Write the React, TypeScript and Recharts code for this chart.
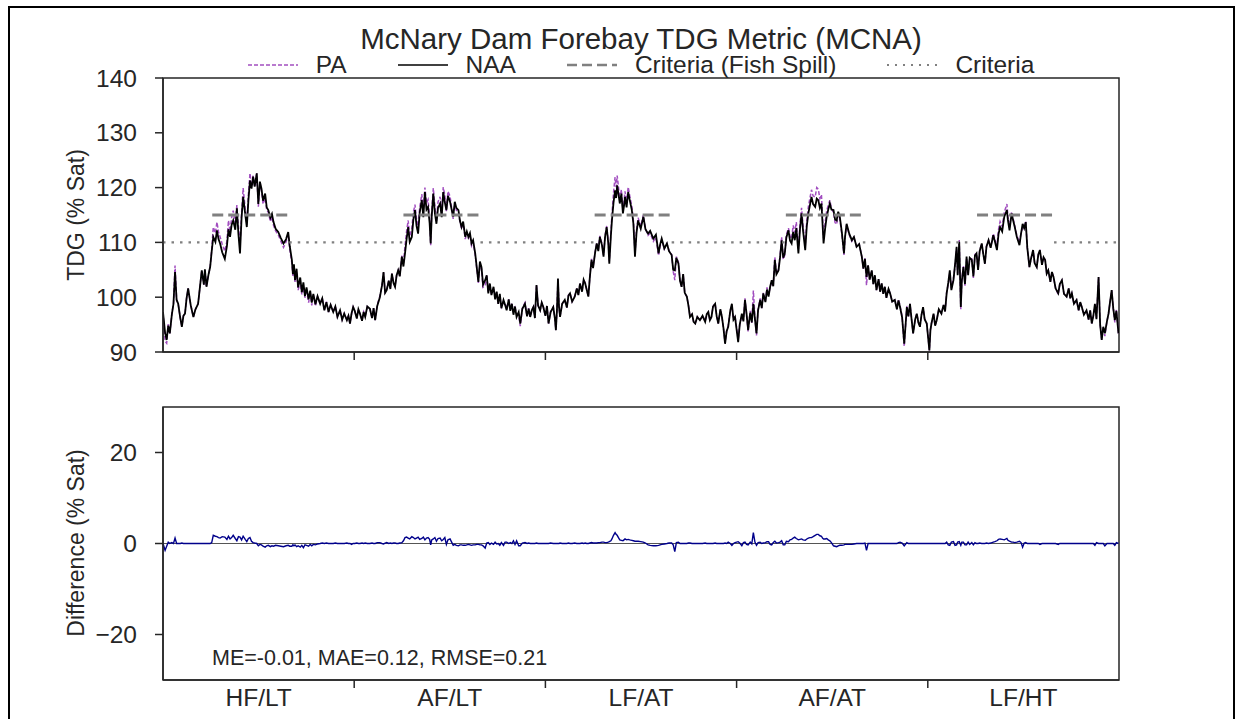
import React from "react";
import { LineChart, Line, XAxis, YAxis, ReferenceLine, ReferenceArea } from "recharts";

// Day of the 5-year period (365 days per year) for each sample
const days = [
  // year 1
  0, 4, 7, 10, 13, 17, 20, 23, 26, 29,
  33, 36, 39, 42, 45, 48, 53, 58, 62, 67,
  70, 74, 78, 80, 83, 87, 90, 93, 96, 100,
  103, 106, 109, 113, 118, 122, 125, 128, 131, 134,
  138, 141, 144, 147, 150, 153, 157, 160, 163, 166,
  169, 172, 175, 179, 182, 185, 188, 191, 195, 198,
  201, 205, 208, 211, 215, 220, 225, 230, 235, 239,
  242, 246, 248, 250, 252, 255, 258, 262, 265, 268,
  271, 274, 278, 281, 284, 287, 291, 295, 300, 304,
  308, 312, 316, 320, 325, 329, 333, 338, 342, 346,
  351, 354, 357, 360, 363,
  // year 2
  366, 370, 373, 376, 380, 383, 386, 390, 395, 399,
  402, 405, 409, 414, 418, 421, 424, 427, 431, 434,
  437, 440, 443, 446, 449, 452, 456, 459, 462, 465,
  468, 471, 475, 478, 481, 484, 487, 490, 494, 497,
  500, 503, 506, 509, 511, 513, 516, 519, 522, 525,
  529, 532, 535, 538, 541, 544, 548, 551, 554, 557,
  560, 564, 567, 570, 573, 577, 580, 583, 586, 589,
  592, 596, 599, 602, 605, 608, 611, 615, 618, 621,
  624, 627, 631, 634, 637, 640, 643, 646, 650, 653,
  656, 660, 663, 666, 669, 672, 675, 679, 682, 686,
  691, 695, 698, 701, 704, 707, 710, 713, 716, 720,
  723, 726,
  // year 3
  730, 733, 736, 740, 745, 748, 750, 752, 754, 756,
  758, 762, 767, 771, 774, 777, 781, 786, 790, 793,
  796, 800, 803, 806, 809, 812, 815, 818, 821, 825,
  828, 831, 834, 838, 841, 844, 847, 850, 852, 855,
  857, 860, 863, 865, 867, 870, 872, 875, 878, 880,
  882, 885, 888, 891, 895, 898, 901, 904, 907, 912,
  917, 921, 926, 930, 936, 941, 946, 949, 952, 957,
  962, 966, 971, 974, 977, 980, 984, 987, 990, 993,
  996, 1000, 1003, 1006, 1010, 1013, 1016, 1020, 1025, 1030,
  1035, 1038, 1041, 1044, 1047, 1050, 1054, 1057, 1060, 1064,
  1067, 1070, 1073, 1076, 1079, 1083, 1086, 1089, 1092,
  // year 4
  1098, 1101, 1105, 1108, 1111, 1114, 1117, 1121, 1124, 1127,
  1130, 1133, 1136, 1140, 1143, 1146, 1150, 1153, 1156, 1159,
  1162, 1165, 1168, 1171, 1175, 1178, 1181, 1184, 1187, 1190,
  1194, 1197, 1200, 1203, 1206, 1209, 1213, 1216, 1219, 1222,
  1226, 1229, 1232, 1235, 1238, 1241, 1245, 1248, 1251, 1254,
  1257, 1259, 1261, 1264, 1267, 1270, 1273, 1276, 1280, 1283,
  1286, 1289, 1292, 1296, 1300, 1302, 1305, 1310, 1315, 1319,
  1324, 1329, 1334, 1337, 1340, 1343, 1346, 1349, 1353, 1356,
  1359, 1362, 1366, 1369, 1372, 1375, 1378, 1381, 1385, 1388,
  1392, 1397, 1401, 1404, 1407, 1411, 1415, 1420, 1423, 1426,
  1429, 1432, 1436, 1439, 1442, 1445, 1448, 1451, 1454, 1458,
  // year 5
  1463, 1465, 1467, 1471, 1474, 1477, 1481, 1486, 1490, 1493,
  1496, 1499, 1502, 1505, 1509, 1512, 1515, 1517, 1520, 1523,
  1525, 1528, 1531, 1534, 1537, 1540, 1544, 1547, 1550, 1553,
  1556, 1559, 1563, 1566, 1569, 1572, 1576, 1580, 1585, 1588,
  1592, 1595, 1598, 1602, 1606, 1611, 1613, 1616, 1620, 1623,
  1626, 1630, 1635, 1638, 1641, 1644, 1647, 1650, 1654, 1657,
  1661, 1664, 1668, 1671, 1674, 1678, 1681, 1684, 1687, 1690,
  1694, 1697, 1700, 1704, 1709, 1712, 1716, 1720, 1725, 1729,
  1732, 1735, 1739, 1744, 1748, 1751, 1754, 1758, 1763, 1767,
  1770, 1773, 1776, 1779, 1782, 1786, 1789, 1792, 1795, 1798,
  1802, 1805, 1808, 1811, 1814, 1817, 1820, 1824,
];

// NAA forebay TDG (% saturation)
const naa = [
  // year 1
  97.3, 93.5, 92.2, 94.8, 93.4, 96.9, 98.8, 104.6, 99.5, 98.8,
  96.2, 94.6, 96.6, 97, 99.8, 101.6, 98.5, 96.4, 97.8, 98.8,
  101.4, 104.9, 102.3, 105.1, 101.9, 104.2, 105.5, 108.4, 111, 110.1,
  112.2, 110.6, 109.8, 108.2, 107, 109.3, 112.4, 111, 113.2, 114,
  112.3, 116.2, 111.5, 108, 114.5, 118.3, 115.1, 112.8, 117.6, 121.3,
  119.8, 122, 120.2, 122.6, 117, 121.1, 119.8, 117.6, 118.9, 116.4,
  115.9, 114.5, 115.2, 113.7, 112.5, 111.9, 110.8, 109.8, 110.6, 111.9,
  109.3, 106.8, 104.2, 106.0, 103.1, 105.2, 101.8, 103.6, 100.9, 102.7,
  100.2, 101.8, 99.6, 101.2, 99.0, 100.6, 98.7, 100.2, 98.8, 99.8,
  97.6, 99.1, 97.3, 98.6, 97.3, 98.3, 96.4, 97.6, 95.9, 97.0,
  95.8, 96.6, 95.2, 97.1, 98.2,
  // year 2
  97.5, 96.1, 97.8, 97, 95.7, 97.3, 96.4, 98.3, 97.9, 96.2,
  98.0, 95.8, 98.4, 100, 102.1, 104.6, 100.8, 101.3, 103.0, 101.5,
  104.3, 102.6, 101.9, 104.0, 104.9, 103.8, 107.4, 105.6, 108, 110.6,
  112.8, 110.1, 111, 114.2, 115.9, 113.0, 111.6, 115.4, 117.7, 114.6,
  119.2, 116.0, 116.5, 113.5, 109.8, 114.8, 118.9, 115.4, 113.4, 116.3,
  117.1, 114.6, 119.2, 117.3, 115.9, 118.5, 117.4, 116.0, 114.7, 117.4,
  116.3, 115.9, 113.9, 112.8, 113.8, 111, 112.0, 111, 111.7, 109.8,
  110.4, 108, 105.4, 102.8, 106.5, 105.5, 102.3, 103.1, 104.0, 100.7,
  102.5, 100.4, 101.9, 99.6, 101.0, 98.8, 100.6, 98.0, 99.5, 98.6,
  97.6, 99.6, 97.5, 98.8, 96.8, 98.3, 96.4, 97.3, 95.2, 97.9,
  98.8, 96.5, 97.9, 96.4, 97.6, 98.2, 96.2, 102.2, 98.5, 97.6,
  99.0, 98.2,
  // year 3
  96.6, 98.4, 95.2, 97.3, 98.2, 96.2, 94, 97.5, 103.4, 98.2,
  96.4, 98.8, 99.5, 98.1, 100.3, 100.7, 99.2, 100.1, 101.6, 100.4,
  102.5, 101.0, 103.2, 102.5, 101.3, 100.1, 103.8, 106.8, 105.3, 108.2,
  109.8, 108.4, 111, 109.5, 107.4, 111.1, 112.8, 109.9, 106.1, 111.2,
  114, 117.2, 119.5, 118.1, 120.4, 118.5, 117.1, 118.9, 115.3, 116.6,
  118.3, 116.4, 119.2, 117.7, 115.9, 113.4, 107.4, 111.8, 114, 112.5,
  114.7, 112.4, 111.6, 112.1, 110.7, 111.4, 108, 109.6, 110.7, 108.9,
  109.8, 108.4, 107.7, 105.0, 104.9, 107.2, 106.1, 103.0, 101.9, 104.2,
  100.8, 100.1, 98.5, 96.4, 96.9, 95.5, 95.2, 96.4, 95.8, 96.6,
  95.5, 96.9, 97.3, 95.8, 96.4, 98.3, 98.8, 96.5, 95.2, 97.8,
  96.4, 94.3, 91.5, 93.8, 94.6, 97.6, 98.8, 95.9, 96.4,
  // year 4
  91.8, 95.0, 97, 95.6, 99.5, 97.0, 94, 97.2, 95.4, 98.8,
  96.0, 93.4, 97.6, 99.5, 98.0, 100.7, 99.1, 101.4, 100.1, 101.9,
  103.1, 102.0, 106.8, 104.2, 104.9, 107.3, 110.4, 107.2, 108, 110.9,
  112.2, 110.3, 109.8, 111.9, 110.4, 112.6, 108, 112.4, 115.3, 112.0,
  108.6, 113.0, 115.3, 116.8, 118.3, 117.0, 116.5, 118.0, 117.7, 116.3,
  117.1, 113.5, 109.8, 112.5, 114.7, 116.0, 117.1, 116.0, 115.9, 114.2,
  114, 115.6, 114.7, 111.8, 108, 111.0, 113.4, 111.6, 110.4, 111.0,
  109.2, 109.7, 107.4, 105.2, 107.0, 103.7, 105.8, 103.2, 104.9, 102.4,
  104.0, 101.3, 103.3, 101.0, 102.5, 100.6, 101.9, 99.9, 101.5, 100.7,
  99.2, 99.5, 97.8, 99.4, 98.2, 96.3, 91.5, 98.2, 96.5, 98.8,
  96.0, 93.4, 96.0, 97, 95.4, 94.6, 96.8, 98.2, 96.0, 95.2,
  // year 5
  90.3, 94.0, 95.2, 97.0, 94.8, 95.8, 97.8, 97, 98.6, 97.4,
  100.7, 102.6, 104.9, 101.3, 103.1, 106.0, 109.2, 104.0, 110.1, 98.2,
  103.0, 105.5, 102.4, 107.4, 104.0, 107.2, 106.8, 103.8, 107.6, 108,
  105.0, 108.4, 109.8, 107.8, 106.1, 109.2, 110.4, 109.0, 111.3, 110.2,
  108.6, 111.5, 112.8, 112.0, 114.7, 115.9, 114.0, 112.2, 115.3, 114.0,
  112.8, 111.0, 109.5, 111.6, 113.4, 112.6, 113.7, 109.0, 105.5, 107.0,
  108.6, 106.2, 105.5, 107.8, 108.6, 105.9, 107.3, 106.8, 104.3, 104.9,
  102.8, 104.6, 103.7, 101.6, 100.7, 102.4, 103.1, 100.6, 100.1, 101.6,
  99.8, 100.7, 98.8, 99.5, 97.6, 99.1, 98.2, 96.8, 97.6, 95.9,
  97.6, 95.2, 96.6, 98.8, 96.0, 103.7, 95.0, 92.2, 94.6, 93.4,
  95.6, 97, 99.2, 101.3, 98.0, 95.8, 97.5, 93.4,
];

// PA minus NAA (% saturation)
const diff = [
  // year 1
  0, -1.5, -0.6, 0.3, 0, 0.2, 0, 1.2, 0, 0,
  0, 0.1, 0, 0, 0, 0, 0, 0, 0, 0,
  0, 0, 0, 0, 0, 0, 0, 0.2, 1.8, 1.6,
  1.5, 1.3, 1.2, 1.5, 1.4, 0.9, 1.6, 1.0, 1.3, 1.8,
  1.1, 0.6, 1.5, 1.4, 0.8, 1.6, 0.9, 0.4, 1.1, 1.3,
  0.5, 0.2, 0.1, 0, -0.5, -0.2, -0.3, -0.6, -0.8, -0.5,
  -0.4, -0.7, -0.5, -0.6, -0.4, -0.5, -0.6, -0.7, -0.5, -0.4,
  -0.6, -0.6, -0.3, -0.5, -0.3, -0.7, -0.5, -0.8, -0.4, -0.9,
  -0.3, -0.4, -0.6, -0.2, -0.5, -0.2, -0.3, -0.1, 0, 0.1,
  0, 0.1, 0, 0, 0, 0.1, 0, 0, 0, 0,
  0.1, 0, 0, -0.2, 0,
  // year 2
  0, 0.1, 0, 0, 0.1, 0, 0.1, 0, 0, 0.1,
  0, 0, 0.2, 0.2, 0, -0.1, 0.1, 0.2, 0, 0.1,
  0, 0.1, 0.1, 0, 0, 0.1, 0.2, 0.6, 1.3, 1.4,
  1.2, 1.0, 1.5, 1.3, 1.0, 1.2, 1.4, 0.9, 1.1, 1.4,
  0.8, 1.2, 1.3, 0.9, -0.3, 0.8, 1.0, 1.3, 0.5, 1.1,
  1.2, 0.6, 0.9, 1.3, -0.2, 0.8, 1.0, 0.3, -0.4, -0.2,
  -0.4, -0.5, -0.3, -0.3, -0.4, -0.4, -0.3, -0.2, -0.3, -0.4,
  -0.3, -0.3, -0.2, -0.2, -0.3, -0.3, -0.5, -1.0, 0.1, 0.2,
  -0.2, 0.1, -0.2, 0.3, -0.1, 0, -0.4, 0.2, -0.4, 0.3,
  0.3, 0, 0.2, 0, 0.6, -0.2, 0.6, -0.5, -0.5, 0.1,
  0.2, 0, 0.1, 0, 0, 0, 0, 0.1, 0, 0,
  0, 0,
  // year 3
  0, 0, 0, 0.1, 0, 0, 0, 0, 0, 0,
  0.1, 0, 0, 0, 0.1, 0, 0, 0.1, 0, 0,
  0, 0.1, 0, 0.1, 0, 0, 0.1, 0.2, 0.1, 0.1,
  0.1, 0.2, 0.2, 0.3, 0.3, 0.2, 0.2, 0.3, 0.4, 0.6,
  1.0, 1.8, 2.4, 2.0, 1.8, 1.2, 0.8, 0.7, 0.6, 0.8,
  1.0, 0.8, 0.9, 0.8, 0.7, 0.6, 0.5, 0.5, 0.5, 0.4,
  0.3, 0.1, -0.3, -0.4, -0.5, -0.5, -0.4, -0.3, -0.2, -0.1,
  0, 0.1, 0.1, -0.3, -1.8, 0.2, 0.3, 0, 0, 0,
  0, 0, 0.1, 0.1, 0, 0, 0, 0, 0, 0,
  0.1, 0, 0, 0, 0, 0, 0.1, 0, 0, 0,
  0, 0, 0.1, 0, 0.3, 0, -0.4, 0, 0.2,
  // year 4
  0.4, 0.1, -0.5, 0.2, 0.3, -0.2, -0.3, 0.3, -0.1, 2.4,
  0.3, -0.4, 0.2, 0.3, 0, 0.1, 0.2, 0.4, 0.4, -0.2,
  -0.3, 0.2, 0.5, 0.1, 0.2, 0.3, 0.6, -0.3, -0.3, 0.5,
  0.4, 0.8, 0.9, 1.2, 1.4, 1.1, 0.8, 0.9, 1.0, 0.8,
  0.7, 1.0, 1.2, 1.3, 1.3, 1.5, 1.8, 2.0, 2.0, 1.7,
  1.6, 1.2, 1.0, 1.0, 1.1, 0.8, 0.6, 0.2, -0.5, -0.6,
  -0.7, -0.5, -0.4, -0.4, -0.3, -0.2, -0.2, -0.2, -0.2, -0.1,
  0, 0, 0, 0, 0.1, -1.5, 0, 0, 0, 0,
  0, 0, 0, 0, 0, 0, 0, 0, 0, 0,
  0, 0, 0, 0.2, 0.3, 0.1, -0.5, 0.2, 0, 0,
  0, 0, 0, 0, 0, 0, 0, 0, 0, 0,
  // year 5
  0, 0, 0, 0, 0, 0, 0, 0, 0, 0,
  0.3, -0.3, -0.4, 0.3, 0.4, -0.4, -0.3, 0.3, 0.4, -0.4,
  0.3, 0.3, -0.3, -0.3, 0.3, -0.2, 0.2, -0.3, 0.2, 0,
  0, 0.1, 0, 0, 0, 0.1, 0, 0.1, 0.3, 0.4,
  0.6, 0.9, 1.0, 0.9, 0.8, 1.1, 0.7, 0.5, 0.3, 0.3,
  0.2, 0.3, 0.5, 0.2, -0.8, 0.1, 0.2, 0, 0, 0,
  0, 0, 0, 0, -0.2, 0, 0, 0, 0, 0,
  0, 0, 0, 0, -0.2, 0, 0, 0, 0, 0,
  0, 0, 0, 0, 0, 0, 0, 0, 0, 0,
  0, 0, 0, -0.4, 0.2, 0, 0, 0, 0, -0.5,
  0, 0, 0, 0, 0, -0.4, 0.2, 0,
];

const yearLabels = ["HF/LT", "AF/LT", "LF/AT", "AF/AT", "LF/HT"];
const daysPerYear = 365;
const spillStart = [94, 459, 824, 1189, 1554];
const spillEnd = [241, 606, 971, 1336, 1701];
const fishSpillCriteria = 115;
const tdgCriteria = 110;
const tdgTicks = [90, 100, 110, 120, 130, 140];
const diffTicks = [-20, 0, 20];
const statsText = "ME=-0.01, MAE=0.12, RMSE=0.21";

const FONT = '"Liberation Sans", Arial, Helvetica, sans-serif';
const INK = "#262626";
const PA_COLOR = "#a24fc0";
const CRIT_COLOR = "#808080";
const DIFF_COLOR = "#00008b";

const totalDays = daysPerYear * yearLabels.length;

const naaData = days.map((d, i) => ({ day: d, naa: naa[i] }));
const paData = days.map((d, i) => ({ day: d, pa: +(naa[i] + diff[i]).toFixed(2) }));
const diffData = days.map((d, i) => ({ day: d, diff: diff[i] }));

// criteria 110 outside the spill windows, 115 inside them
const criteriaData: { day: number; v: number | null }[] = [];
let prevEnd = 0;
spillStart.forEach((s, k) => {
  criteriaData.push({ day: prevEnd, v: tdgCriteria }, { day: s, v: tdgCriteria }, { day: s, v: null });
  prevEnd = spillEnd[k];
});
criteriaData.push({ day: prevEnd, v: tdgCriteria }, { day: totalDays, v: tdgCriteria });

const fishSpillData: { day: number; v: number | null }[] = [];
spillStart.forEach((s, k) => {
  fishSpillData.push({ day: s, v: fishSpillCriteria }, { day: spillEnd[k], v: fishSpillCriteria }, { day: spillEnd[k], v: null });
});

const boundaryTicks = yearLabels.slice(1).map((_, i) => (i + 1) * daysPerYear);
const labelTicks = yearLabels.map((_, i) => (i + 0.5) * daysPerYear);
const allTicks = [...labelTicks, ...boundaryTicks].sort((a, b) => a - b);

const legendItems = [
  { name: "PA", color: PA_COLOR, dash: "4 2", width: 1.5 },
  { name: "NAA", color: "#000", dash: undefined, width: 1.5 },
  { name: "Criteria (Fish Spill)", color: CRIT_COLOR, dash: "10 5", width: 2.5 },
  { name: "Criteria", color: CRIT_COLOR, dash: "2 6", width: 2 },
];

function YearTick(props: any) {
  const { x, y, payload, showLabels } = props;
  const v = payload.value;
  if (v % daysPerYear === 0) {
    return <line x1={x} x2={x} y1={y - 8} y2={y} stroke={INK} strokeWidth={1.5} />;
  }
  if (!showLabels) return <g />;
  return (
    <text x={x} y={y} dy="0.72em" textAnchor="middle" fill={INK} fontSize={24.5} fontFamily={FONT}>
      {yearLabels[Math.floor(v / daysPerYear)]}
    </text>
  );
}

const minusFmt = (v: number) => (v < 0 ? `\u2212${-v}` : `${v}`);

export default function App() {
  const axisLine = { stroke: INK, strokeWidth: 1.5 };
  const yTick = { fill: INK, fontSize: 24.5, fontFamily: FONT };
  return (
    <div style={{ position: "relative", width: 1243, height: 719, overflow: "hidden", background: "#fff" }}>
      <style>{"body{margin:0;overflow:hidden}"}</style>
      <div style={{ position: "absolute", left: 8, top: 6, width: 1227, height: 730, border: "2px solid #000", boxSizing: "border-box" }} />

      <div style={{ position: "absolute", left: 0, top: 0 }}>
        <LineChart width={1243} height={382} margin={{ top: 78, right: 124, left: 103, bottom: 0 }}>
          <XAxis type="number" dataKey="day" domain={[0, totalDays]} ticks={boundaryTicks} interval={0}
            height={30} tickSize={8} tickMargin={0} tickLine={{ stroke: "transparent" }} axisLine={axisLine}
            tick={(p: any) => <YearTick {...p} showLabels={false} />} allowDataOverflow />
          <YAxis type="number" domain={[90, 140]} ticks={tdgTicks} interval={0} width={60}
            tickSize={8} tickMargin={18} tickLine={axisLine} axisLine={axisLine} tick={yTick} allowDataOverflow />
          <Line data={paData} dataKey="pa" stroke={PA_COLOR} strokeWidth={1.5} strokeDasharray="4 2" dot={false} isAnimationActive={false} />
          <Line data={naaData} dataKey="naa" stroke="#000" strokeWidth={1.8} dot={false} isAnimationActive={false} />
          <Line data={fishSpillData} dataKey="v" stroke={CRIT_COLOR} strokeWidth={2.8} strokeDasharray="11 5" dot={false} isAnimationActive={false} />
          <Line data={criteriaData} dataKey="v" stroke={CRIT_COLOR} strokeWidth={2.2} strokeDasharray="2.5 6" dot={false} isAnimationActive={false} />
          <ReferenceArea x1={0} x2={totalDays} y1={90} y2={140} fill="none" stroke={INK} strokeWidth={1.5} ifOverflow="visible" />
        </LineChart>
      </div>

      <div style={{ position: "absolute", left: 0, top: 380 }}>
        <LineChart width={1243} height={339} margin={{ top: 27, right: 124, left: 103, bottom: 9 }}>
          <XAxis type="number" dataKey="day" domain={[0, totalDays]} ticks={allTicks} interval={0}
            height={30} tickSize={8} tickMargin={0} tickLine={{ stroke: "transparent" }} axisLine={axisLine}
            tick={(p: any) => <YearTick {...p} showLabels />} allowDataOverflow />
          <YAxis type="number" domain={[-30, 30]} ticks={diffTicks} interval={0} width={60}
            tickSize={8} tickMargin={18} tickLine={axisLine} axisLine={axisLine} tick={yTick}
            tickFormatter={minusFmt} allowDataOverflow />
          <ReferenceLine y={0} stroke="#555" strokeWidth={1} />
          <Line data={diffData} dataKey="diff" stroke={DIFF_COLOR} strokeWidth={1.4} dot={false} isAnimationActive={false} />
          <ReferenceArea x1={0} x2={totalDays} y1={-30} y2={30} fill="none" stroke={INK} strokeWidth={1.5} ifOverflow="visible" />
        </LineChart>
      </div>

      <svg width={1243} height={719} style={{ position: "absolute", left: 0, top: 0, pointerEvents: "none" }}>
        <text x={641} y={48.5} textAnchor="middle" fill={INK} fontSize={29.5} fontFamily={FONT}>
          McNary Dam Forebay TDG Metric (MCNA)
        </text>
        <text x={0} y={0} transform="translate(84 215) rotate(-90)" textAnchor="middle" fill={INK} fontSize={23} fontFamily={FONT}>
          TDG (% Sat)
        </text>
        <text x={0} y={0} transform="translate(84 543) rotate(-90)" textAnchor="middle" fill={INK} fontSize={23} fontFamily={FONT}>
          Difference (% Sat)
        </text>
        <text x={212} y={665} fill={INK} fontSize={21.5} fontFamily={FONT}>
          {statsText}
        </text>
      </svg>

      <div style={{ position: "absolute", left: 163, top: 55, width: 956, height: 20, display: "flex", justifyContent: "center", alignItems: "center", fontFamily: FONT, fontSize: 24.5, color: INK }}>
        {legendItems.map((it, i) => (
          <div key={it.name} style={{ display: "flex", alignItems: "center", marginLeft: i === 0 ? 0 : 51 }}>
            <svg width={50} height={10}>
              <line x1={0} x2={50} y1={5} y2={5} stroke={it.color} strokeWidth={it.width} strokeDasharray={it.dash} />
            </svg>
            <span style={{ marginLeft: 18, display: "inline-block", lineHeight: "20px", height: 20 }}>{it.name}</span>
          </div>
        ))}
      </div>
    </div>
  );
}
